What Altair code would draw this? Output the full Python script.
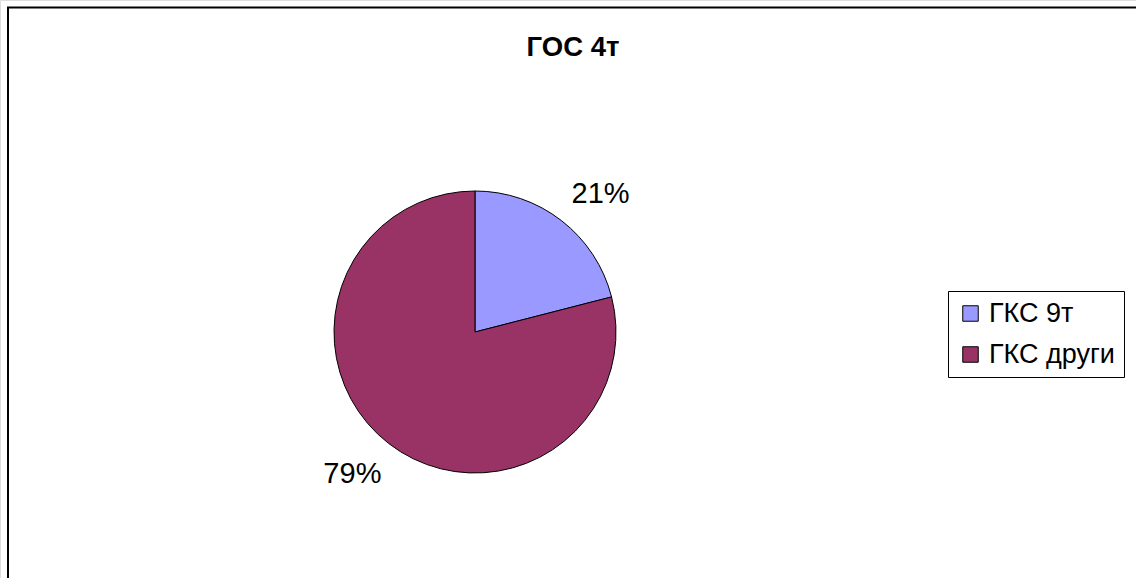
import altair as alt
import pandas as pd

categories = ["ГКС 9т", "ГКС други"]
values = [21, 79]
labels = ["21%", "79%"]
colors = ["#9999FF", "#993366"]
title_text = "ГОС 4т"

df = pd.DataFrame({"cat": categories, "val": values, "lab": labels, "ord": [0, 1]})

FONT = "Liberation Sans"
CX, CY, R = 475, 332, 141
W, H = 1136, 578

base = alt.Chart(df).transform_stack(
    stack="val", as_=["s", "e"], groupby=[], sort=[alt.SortField("ord")]
).transform_calculate(m="(datum.s + datum.e) / 2")

theta_scale = alt.Scale(domain=[0, 100], range=[0, 6.283185307179586])

pie = base.mark_arc(stroke="black", strokeWidth=1).encode(
    theta=alt.Theta("s:Q", scale=theta_scale),
    theta2="e:Q",
    x=alt.value(CX), y=alt.value(CY),
    radius=alt.value(R),
    color=alt.Color(
        "cat:N",
        scale=alt.Scale(domain=categories, range=colors),
        sort=categories,
        legend=alt.Legend(
            title=None, orient="none", legendX=948, legendY=291,
            strokeColor="black", padding=9, rowPadding=13,
            labelFont=FONT, labelFontSize=27, labelColor="black",
            symbolType="square", symbolSize=240, symbolStrokeColor="black",
            symbolStrokeWidth=1, symbolOpacity=1, labelOffset=5,
            labelLimit=400,
        ),
    ),
)

def label_layer(o, dx, dy):
    return base.transform_filter(alt.datum.ord == o).mark_text(
        font=FONT, fontSize=29, color="black", dx=dx, dy=dy
    ).encode(
        theta=alt.Theta("m:Q", scale=theta_scale),
        x=alt.value(CX), y=alt.value(CY), radius=alt.value(187), text="lab:N",
    )

text1 = label_layer(0, 11, 10)
text2 = label_layer(1, -8, -6)

title = alt.Chart(pd.DataFrame({"t": [title_text]})).mark_text(
    font=FONT, fontSize=27.5, fontWeight="bold", color="black"
).encode(x=alt.value(573), y=alt.value(48), text="t:N")

border = alt.Chart(pd.DataFrame({"a": [0]})).mark_rect(
    fill=None, stroke="black", strokeWidth=2
).encode(x=alt.value(8), x2=alt.value(W + 2), y=alt.value(7.5), y2=alt.value(H + 2))

chart = alt.layer(border, pie, text1, text2, title).properties(
    width=W, height=H,
    autosize=alt.AutoSizeParams(type="none"),
    padding=0,
).configure_view(stroke=None).configure(background="white")

chart.save("out.html", embed_options={"renderer": "svg", "actions": False})
